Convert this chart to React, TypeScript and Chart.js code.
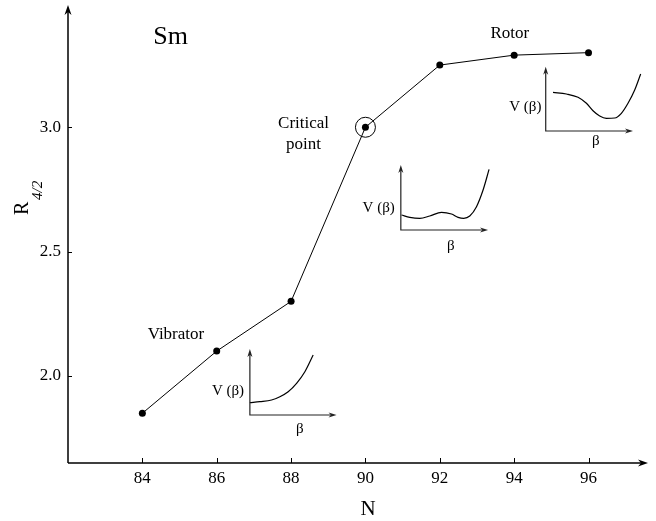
import React, { useEffect, useRef } from "react";
import { Chart, registerables } from "chart.js";

Chart.register(...registerables);

// ---- main data ----
const nucleonNumbers = [84, 86, 88, 90, 92, 94, 96];
const r42Values = [1.85, 2.1, 2.3, 3.0, 3.25, 3.29, 3.3];
const criticalN = 90;
const criticalR = 3.0;
const xTickValues = [84, 86, 88, 90, 92, 94, 96];
const yTickValues = [2.0, 2.5, 3.0];
const xRange = [82, 97.6];
const yRange = [1.65, 3.4916];

// ---- inset potential sketches (in chart data units) ----
const vibratorCurveX = [86.892, 87.161, 87.476, 87.699, 87.922, 88.148, 88.371, 88.594];
const vibratorCurveY = [1.8925, 1.8965, 1.9033, 1.9166, 1.9367, 1.9705, 2.0171, 2.0843];
const criticalCurveX = [90.97, 91.194, 91.462, 91.731, 92.046, 92.315, 92.492, 92.645, 92.806, 92.987, 93.164, 93.325];
const criticalCurveY = [2.6472, 2.6379, 2.6339, 2.6432, 2.658, 2.6512, 2.6379, 2.6339, 2.6432, 2.6806, 2.7477, 2.8304];
const rotorCurveX = [95.046, 95.406, 95.718, 95.944, 96.121, 96.301, 96.481, 96.704, 96.884, 97.062, 97.242, 97.403];
const rotorCurveY = [3.1405, 3.1337, 3.1204, 3.0963, 3.0666, 3.0452, 3.036, 3.0372, 3.0561, 3.0963, 3.1498, 3.2141];

// inset axes: origin x, origin y, x-axis end, y-axis end
const insetOriginX = [86.892, 90.952, 94.849];
const insetOriginY = [1.843, 2.5869, 2.9849];
const insetXEnd = [89.223, 93.298, 97.196];
const insetYEnd = [2.108, 2.8482, 3.2435];
const insetVLabelX = [86.737, 90.79, 94.734];
const insetVLabelY = [1.9234, 2.6604, 3.0666];
const insetBetaX = [88.237, 92.296, 96.194];
const insetBetaY = [1.7706, 2.5065, 2.9286];

// text annotations
const annotationTexts = ["Sm", "Vibrator", "Critical", "point", "Rotor"];
const annotationX = [84.293, 84.142, 88.336, 88.336, 93.882];
const annotationY = [3.3336, 2.1474, 2.9958, 2.9113, 3.3577];

const SERIF = "'Liberation Serif', 'DejaVu Serif', serif";

function toXY(xs: number[], ys: number[]) {
  return xs.map((x, i) => ({ x, y: ys[i] }));
}

function arrowHead(ctx: CanvasRenderingContext2D, tx: number, ty: number, dx: number, dy: number, len: number, half: number) {
  const bx = tx - dx * len;
  const by = ty - dy * len;
  const nx = -dy;
  const ny = dx;
  const mx = tx - dx * len * 0.7;
  const my = ty - dy * len * 0.7;
  ctx.beginPath();
  ctx.moveTo(tx, ty);
  ctx.lineTo(bx + nx * half, by + ny * half);
  ctx.lineTo(mx, my);
  ctx.lineTo(bx - nx * half, by - ny * half);
  ctx.closePath();
  ctx.fill();
}

const decorPlugin = {
  id: "decor",
  afterDraw(chart: any) {
    const ctx: CanvasRenderingContext2D = chart.ctx;
    const xs = chart.scales.x;
    const ys = chart.scales.y;
    const px = (v: number) => xs.getPixelForValue(v);
    const py = (v: number) => ys.getPixelForValue(v);
    const area = chart.chartArea;
    ctx.save();
    ctx.strokeStyle = "#000";
    ctx.fillStyle = "#000";

    // main axes
    const ax0 = px(xRange[0]);
    const ay0 = py(yRange[0]);
    ctx.lineWidth = 1.5;
    ctx.beginPath();
    ctx.moveTo(ax0, ay0);
    ctx.lineTo(ax0, area.top + 6);
    ctx.moveTo(ax0, ay0);
    ctx.lineTo(area.right - 6, ay0);
    ctx.stroke();
    arrowHead(ctx, ax0, area.top, 0, -1, 10, 3.5);
    arrowHead(ctx, area.right, ay0, 1, 0, 10, 3.5);

    // tick marks
    ctx.lineWidth = 1;
    ctx.beginPath();
    xTickValues.forEach((v) => {
      const x = Math.round(px(v)) + 0.5;
      ctx.moveTo(x, ay0);
      ctx.lineTo(x, ay0 - 5);
    });
    yTickValues.forEach((v) => {
      const y = Math.round(py(v)) + 0.5;
      ctx.moveTo(ax0, y);
      ctx.lineTo(ax0 + 4, y);
    });
    ctx.stroke();

    // inset axes
    ctx.lineWidth = 1.2;
    ctx.strokeStyle = "#222";
    ctx.fillStyle = "#222";
    for (let i = 0; i < insetOriginX.length; i++) {
      const ox = px(insetOriginX[i]);
      const oy = py(insetOriginY[i]);
      const ex = px(insetXEnd[i]);
      const ey = py(insetYEnd[i]);
      ctx.beginPath();
      ctx.moveTo(ox, ey + 4);
      ctx.lineTo(ox, oy);
      ctx.lineTo(ex - 4, oy);
      ctx.stroke();
      arrowHead(ctx, ox, ey, 0, -1, 8, 2.5);
      arrowHead(ctx, ex, oy, 1, 0, 8, 2.5);
    }

    // inset labels
    ctx.fillStyle = "#000";
    ctx.font = `15px ${SERIF}`;
    ctx.textBaseline = "alphabetic";
    for (let i = 0; i < insetOriginX.length; i++) {
      ctx.textAlign = "right";
      ctx.fillText("V (\u03b2)", px(insetVLabelX[i]), py(insetVLabelY[i]));
      ctx.textAlign = "center";
      ctx.fillText("\u03b2", px(insetBetaX[i]), py(insetBetaY[i]));
    }

    // annotations
    ctx.textAlign = "left";
    ctx.font = `26px ${SERIF}`;
    ctx.fillText(annotationTexts[0], px(annotationX[0]), py(annotationY[0]));
    ctx.font = `17px ${SERIF}`;
    ctx.fillText(annotationTexts[1], px(annotationX[1]), py(annotationY[1]));
    ctx.textAlign = "center";
    ctx.fillText(annotationTexts[2], px(annotationX[2]), py(annotationY[2]));
    ctx.fillText(annotationTexts[3], px(annotationX[3]), py(annotationY[3]));
    ctx.fillText(annotationTexts[4], px(annotationX[4]), py(annotationY[4]));

    // axis titles
    ctx.font = `21px ${SERIF}`;
    ctx.textAlign = "center";
    ctx.fillText("N", 368, 515);

    ctx.translate(28, 215);
    ctx.rotate(-Math.PI / 2);
    ctx.textAlign = "left";
    ctx.font = `20px ${SERIF}`;
    ctx.fillText("R", 0, 0);
    ctx.font = `italic 15px ${SERIF}`;
    ctx.fillText("4/2", 15, 13.5);
    ctx.restore();
  },
};

export default function App() {
  const canvasRef = useRef<HTMLCanvasElement | null>(null);

  useEffect(() => {
    const canvas = canvasRef.current;
    if (!canvas) return;
    const lineStyle = {
      showLine: true,
      borderColor: "#000",
      borderWidth: 1.2,
      pointRadius: 0,
      fill: false,
      tension: 0.4,
      cubicInterpolationMode: "monotone" as const,
    };
    const chart = new Chart(canvas, {
      type: "scatter",
      data: {
        datasets: [
          {
            label: "R4/2",
            data: nucleonNumbers.map((n, i) => ({ x: n, y: r42Values[i] })),
            showLine: true,
            borderColor: "#000",
            backgroundColor: "#000",
            borderWidth: 1,
            pointRadius: 3.5,
            pointBorderWidth: 0,
            tension: 0,
          },
          {
            label: "critical",
            data: [{ x: criticalN, y: criticalR }],
            showLine: false,
            pointRadius: 10,
            pointBorderColor: "#000",
            pointBorderWidth: 1,
            pointBackgroundColor: "rgba(0,0,0,0)",
          },
          { label: "vib", data: toXY(vibratorCurveX, vibratorCurveY), ...lineStyle },
          { label: "crit", data: toXY(criticalCurveX, criticalCurveY), ...lineStyle },
          { label: "rot", data: toXY(rotorCurveX, rotorCurveY), ...lineStyle },
        ] as any,
      },
      options: {
        responsive: false,
        animation: false,
        devicePixelRatio: 1,
        layout: { autoPadding: false, padding: { top: 5, right: 8, left: 0, bottom: 0 } },
        plugins: { legend: { display: false }, tooltip: { enabled: false } },
        scales: {
          x: {
            type: "linear",
            min: xRange[0],
            max: xRange[1],
            afterBuildTicks: (s: any) => {
              s.ticks = xTickValues.map((v) => ({ value: v }));
            },
            afterFit: (s: any) => {
              s.height = 58;
              s.paddingLeft = 0;
              s.paddingRight = 0;
              s.paddingTop = 0;
              s.paddingBottom = 0;
            },
            ticks: {
              autoSkip: false,
              maxRotation: 0,
              padding: 5,
              color: "#000",
              font: { family: SERIF, size: 17 },
              callback: (v: any) => String(v),
            },
            grid: { display: false, drawTicks: false },
            border: { display: false },
          },
          y: {
            type: "linear",
            min: yRange[0],
            max: yRange[1],
            afterBuildTicks: (s: any) => {
              s.ticks = yTickValues.map((v) => ({ value: v }));
            },
            afterFit: (s: any) => {
              s.width = 68;
              s.paddingLeft = 0;
              s.paddingRight = 0;
              s.paddingTop = 0;
              s.paddingBottom = 0;
            },
            ticks: {
              autoSkip: false,
              padding: 7,
              color: "#000",
              font: { family: SERIF, size: 17 },
              callback: (v: any) => Number(v).toFixed(1),
            },
            grid: { display: false, drawTicks: false },
            border: { display: false },
          },
        },
      },
      plugins: [decorPlugin],
    });
    return () => chart.destroy();
  }, []);

  return (
    <div style={{ position: "fixed", left: 0, top: 0, width: 656, height: 521, background: "#fff" }}>
      <canvas ref={canvasRef} width={656} height={521} style={{ display: "block" }} />
    </div>
  );
}
